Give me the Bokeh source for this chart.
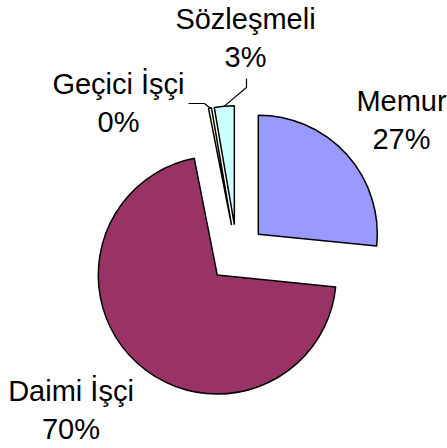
import numpy as np
from bokeh.plotting import figure
from bokeh.models import Range1d
from bokeh.core.properties import value
from bokeh.embed import file_html
from bokeh.resources import INLINE

# ---- data ----
categories = ["Memur", "Daimi İşçi", "Geçici İşçi", "Sözleşmeli"]
shares = [26.6, 70.3, 0.4, 2.7]
colors = ["#9999FF", "#993366", "#FFFFCC", "#CCFFFF"]

# ---- layout (canvas pixel units, y up) ----
W, H = 447, 448
CX, CY = 236.3, 194.9
R = 119
EXPLODE = 29
FONT = value("Liberation Sans")
FSIZE = "29px"
LINE_GAP = 38

# label anchors: (x center, baseline of first line)
label_pos = {
    "Memur": (401, 348),
    "Daimi İşçi": (70.5, 58),
    "Geçici İşçi": (118, 365),
    "Sözleşmeli": (245, 430),
}
# leader line start / elbow for small slices
leaders = {
    "Geçici İşçi": [(188, 345), (204, 345)],
    "Sözleşmeli": [(246, 370), (246, 361)],
}

vals = np.array(shares, dtype=float)
frac = vals / vals.sum()
cw_end = np.cumsum(frac) * 2 * np.pi
cw_start = cw_end - frac * 2 * np.pi
start = np.pi / 2 - cw_end
end = np.pi / 2 - cw_start
mid = (start + end) / 2
xs = CX + EXPLODE * np.cos(mid)
ys = CY + EXPLODE * np.sin(mid)

p = figure(width=W, height=H, x_range=Range1d(0, W), y_range=Range1d(0, H),
           output_backend="svg", toolbar_location=None, min_border=0,
           x_axis_type=None, y_axis_type=None)
p.grid.visible = False
p.outline_line_color = None
p.background_fill_color = "white"
p.border_fill_color = "white"

p.wedge(x=list(xs), y=list(ys), radius=R, start_angle=list(start), end_angle=list(end),
        fill_color=colors, line_color="black", line_width=1.5)

for i, cat in enumerate(categories):
    lx, ly = label_pos[cat]
    pct = f"{int(round(frac[i] * 100))}%"
    p.text(x=[lx, lx], y=[ly, ly - LINE_GAP], text=[cat, pct], text_font=FONT,
           text_font_size=FSIZE, text_align="center", text_baseline="alphabetic",
           text_color="black")
    if cat in leaders:
        ax = xs[i] + R * np.cos(mid[i])
        ay = ys[i] + R * np.sin(mid[i])
        pts = leaders[cat] + [(ax, ay)]
        p.line([q[0] for q in pts], [q[1] for q in pts], line_color="black", line_width=1.2)

open("out.html", "w").write(file_html(p, INLINE))
